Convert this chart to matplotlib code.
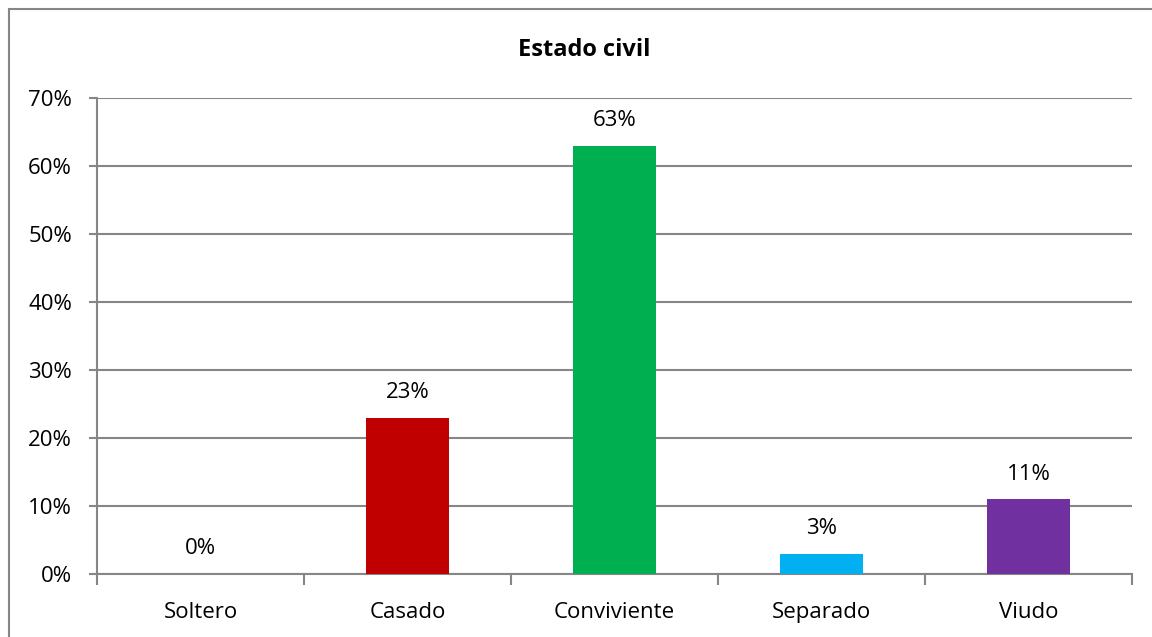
import numpy as np
import matplotlib.pyplot as plt
import matplotlib.ticker as mticker
from matplotlib.patches import Rectangle

categorias = ['Soltero', 'Casado', 'Conviviente', 'Separado', 'Viudo']
porcentajes = [0, 23, 63, 3, 11]
colores = ['#C00000', '#C00000', '#00B050', '#00B0F0', '#7030A0']

plt.rcParams['font.family'] = ['Open Sans', 'DejaVu Sans']

fig = plt.figure(figsize=(11.52, 6.37), dpi=100)
ax = fig.add_axes([97/1152, 63/637, 1035/1152, 476/637])

# marco del grafico
fig.patches.append(Rectangle((9/1152, -0.1), 1.2, (637-9)/637 + 0.1,
                             transform=fig.transFigure, fill=False,
                             edgecolor='#868686', linewidth=1.5))

x = np.arange(len(categorias))
ax.bar(x, porcentajes, width=0.4, color=colores, zorder=3)

for xi, v in zip(x, porcentajes):
    ax.annotate('%d%%' % v, (xi, v), xytext=(0, 18), textcoords='offset points',
                ha='center', va='center', fontsize=16)

ax.set_xlim(-0.5, len(categorias) - 0.5)
ax.set_ylim(0, 70)
ax.yaxis.set_major_locator(mticker.MultipleLocator(10))
ax.yaxis.set_major_formatter(mticker.FuncFormatter(lambda v, p: '%d%%' % v))
ax.grid(axis='y', color='#868686', linewidth=1.5, zorder=0)

ax.set_xticks(x)
ax.set_xticklabels(categorias, fontsize=16)
ax.set_xticks(np.arange(-0.5, len(categorias), 1), minor=True)
ax.tick_params(axis='x', which='major', length=0, pad=20)
ax.tick_params(axis='x', which='minor', length=8, width=1.5, color='#868686')
ax.tick_params(axis='y', length=6, width=1.5, color='#868686', pad=12, labelsize=16)

for s in ['top', 'right']:
    ax.spines[s].set_visible(False)
for s in ['left', 'bottom']:
    ax.spines[s].set_color('#868686')
    ax.spines[s].set_linewidth(1.5)

fig.text(584/1152, 1 - 50/637, 'Estado civil', ha='center', va='center',
         fontsize=17, fontweight='bold')

fig.savefig('out.png', dpi=100)
